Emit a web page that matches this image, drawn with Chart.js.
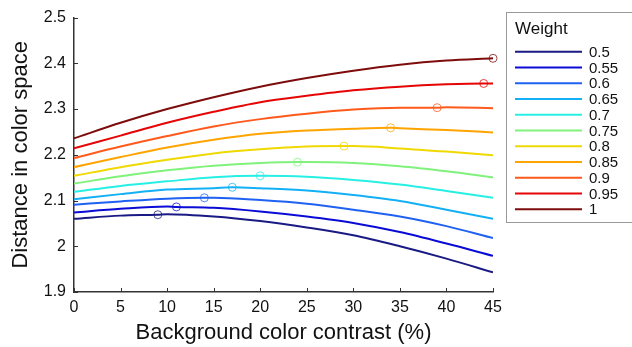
<!DOCTYPE html>
<html>
<head>
<meta charset="utf-8">
<script src="https://cdn.jsdelivr.net/npm/chart.js@4"></script>
<style>
  html, body { margin: 0; padding: 0; background: #fff; }
  #wrap { width: 632px; height: 347px; }
</style>
</head>
<body>
<div id="wrap"><canvas id="chart" width="632" height="347"></canvas></div>
<script>
// background contrast (%) where each curve was read
var contrast = [0, 5, 10, 15, 20, 25, 30, 35, 40, 45];

var weights = ["0.5", "0.55", "0.6", "0.65", "0.7", "0.75", "0.8", "0.85", "0.9", "0.95", "1"];

var w050 = [2.060, 2.067, 2.070, 2.065, 2.055, 2.041, 2.024, 2.000, 1.973, 1.943];
var w055 = [2.074, 2.082, 2.087, 2.084, 2.076, 2.065, 2.051, 2.031, 2.006, 1.979];
var w060 = [2.091, 2.098, 2.104, 2.106, 2.101, 2.093, 2.080, 2.065, 2.044, 2.018];
var w065 = [2.103, 2.114, 2.124, 2.127, 2.127, 2.122, 2.112, 2.099, 2.080, 2.060];
var w070 = [2.119, 2.132, 2.142, 2.151, 2.154, 2.152, 2.145, 2.135, 2.121, 2.106];
var w075 = [2.137, 2.153, 2.166, 2.176, 2.182, 2.184, 2.182, 2.175, 2.164, 2.151];
var w080 = [2.154, 2.173, 2.189, 2.203, 2.212, 2.218, 2.219, 2.214, 2.207, 2.199];
var w085 = [2.173, 2.195, 2.216, 2.233, 2.246, 2.253, 2.257, 2.258, 2.254, 2.249];
var w090 = [2.193, 2.218, 2.241, 2.262, 2.278, 2.290, 2.299, 2.303, 2.304, 2.302];
var w095 = [2.214, 2.242, 2.270, 2.294, 2.315, 2.329, 2.341, 2.349, 2.354, 2.356];
var w100 = [2.236, 2.270, 2.300, 2.326, 2.349, 2.368, 2.384, 2.397, 2.406, 2.411];

// circled maximum of each curve
var peakX = [9, 11, 14, 17, 20, 24, 29, 34, 39, 44, 45];
var peakY = [2.069, 2.086, 2.106, 2.129, 2.154, 2.184, 2.219, 2.259, 2.303, 2.356, 2.411];

var xTickLabels = ["0", "5", "10", "15", "20", "25", "30", "35", "40", "45"];
var yTickLabels = ["1.9", "2", "2.1", "2.2", "2.3", "2.4", "2.5"];

var colors = [
  "#1a1a85",
  "#0b0bd6",
  "#1f62f2",
  "#14b0f5",
  "#28efe4",
  "#80f27c",
  "#efd900",
  "#ffa400",
  "#ff5a1c",
  "#e50505",
  "#7e0c0c",
];

var series = [w050, w055, w060, w065, w070, w075, w080, w085, w090, w095, w100];

var FONT = "'Liberation Sans', Arial, Helvetica, sans-serif";

var datasets = [];
series.forEach(function (vals, i) {
  var pts = contrast.map(function (x, j) {
    return { x: x, y: vals[j] };
  });
  if (contrast.indexOf(peakX[i]) < 0) {
    pts.push({ x: peakX[i], y: peakY[i] });
    pts.sort(function (a, b) { return a.x - b.x; });
  }
  datasets.push({
    label: weights[i],
    data: pts,
    borderColor: colors[i],
    backgroundColor: colors[i],
    borderWidth: 2,
    pointRadius: 0,
    cubicInterpolationMode: "monotone",
    isLine: true,
  });
});
series.forEach(function (vals, i) {
  datasets.push({
    label: "peak " + weights[i],
    data: [{ x: peakX[i], y: peakY[i] }],
    showLine: false,
    clip: false,
    pointStyle: "circle",
    pointRadius: 4,
    borderWidth: 1,
    pointBorderColor: colors[i] + "c0",
    pointBackgroundColor: "rgba(0,0,0,0)",
  });
});

// tick marks pointing into the plot, MATLAB style
var innerTicks = {
  id: "innerTicks",
  afterDatasetsDraw: function (chart) {
    var ctx = chart.ctx;
    var xs = chart.scales.x, ys = chart.scales.y;
    var a = chart.chartArea;
    ctx.save();
    ctx.strokeStyle = "#333";
    ctx.lineWidth = 1;
    ctx.beginPath();
    xs.ticks.forEach(function (t) {
      var px = Math.round(xs.getPixelForValue(t.value)) + 0.5;
      ctx.moveTo(px, a.bottom);
      ctx.lineTo(px, a.bottom - 4);
    });
    ys.ticks.forEach(function (t) {
      var py = Math.round(ys.getPixelForValue(t.value)) + 0.5;
      ctx.moveTo(a.left, py);
      ctx.lineTo(a.left + 4, py);
    });
    ctx.stroke();
    ctx.restore();
  },
};

var boxLegend = {
  id: "boxLegend",
  afterDraw: function (chart) {
    var ctx = chart.ctx;
    ctx.save();
    ctx.fillStyle = "#fff";
    ctx.fillRect(506, 12, 140, 211);
    ctx.strokeStyle = "#999";
    ctx.lineWidth = 1;
    ctx.strokeRect(506.5, 12.5, 140, 210);
    ctx.fillStyle = "#111";
    ctx.textBaseline = "middle";
    ctx.textAlign = "left";
    ctx.font = "17px " + FONT;
    ctx.fillText("Weight", 515, 29);
    ctx.font = "15px " + FONT;
    chart.data.datasets.forEach(function (ds, i) {
      if (!ds.isLine) return;
      var y = 51.7 + i * 15.76;
      ctx.strokeStyle = ds.borderColor;
      ctx.lineWidth = 2;
      ctx.beginPath();
      ctx.moveTo(515, y);
      ctx.lineTo(582, y);
      ctx.stroke();
      ctx.fillStyle = "#111";
      ctx.fillText(ds.label, 589, y + 1);
    });
    ctx.restore();
  },
};

new Chart(document.getElementById("chart"), {
  type: "line",
  data: { datasets: datasets },
  options: {
    responsive: false,
    animation: false,
    layout: { padding: { left: 0, right: 139, top: 11, bottom: 0 } },
    plugins: {
      legend: { display: false },
      tooltip: { enabled: false },
    },
    scales: {
      x: {
        type: "linear",
        min: 0,
        max: 45,
        grid: { display: false, drawTicks: false },
        border: { display: true, color: "#333", width: 1.5 },
        ticks: {
          stepSize: 5,
          padding: 6,
          color: "#111",
          font: { family: FONT, size: 16 },
          maxRotation: 0,
          callback: function (v, i) { return xTickLabels[i]; },
        },
        title: {
          display: true,
          text: "Background color contrast (%)",
          color: "#111",
          font: { family: FONT, size: 22 },
          padding: { top: 0, bottom: 1 },
        },
        afterFit: function (s) { s.height = 55; },
      },
      y: {
        min: 1.9,
        max: 2.5,
        grid: { display: false, drawTicks: false },
        border: { display: true, color: "#333", width: 1.5 },
        ticks: {
          stepSize: 0.1,
          padding: 8,
          color: "#111",
          font: { family: FONT, size: 16 },
          callback: function (v, i) { return yTickLabels[i]; },
        },
        title: {
          display: true,
          text: "Distance in color space",
          color: "#111",
          font: { family: FONT, size: 22 },
          padding: { top: 8, bottom: 0 },
        },
        afterFit: function (s) { s.width = 74; },
      },
    },
  },
  plugins: [innerTicks, boxLegend],
});
</script>
</body>
</html>
